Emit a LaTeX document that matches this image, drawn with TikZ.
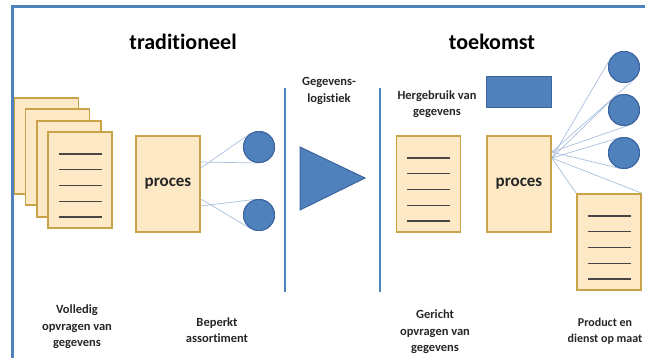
\documentclass[tikz,border=0pt]{standalone}
\usepackage{fontspec}
\setmainfont{Carlito}[Ligatures=NoCommon]
\usetikzlibrary{calc}
\definecolor{frameblue}{HTML}{4F81BD}
\definecolor{circlefill}{HTML}{4F81BD}
\definecolor{circledraw}{HTML}{3B64A0}
\definecolor{docfill}{HTML}{FDE9C5}
\definecolor{docdraw}{HTML}{C9A24A}
\definecolor{fanline}{HTML}{A9BFDC}
\definecolor{txt}{HTML}{262626}
\definecolor{docln}{HTML}{4A4545}
\tikzset{
  docbox/.style={draw=docdraw, fill=docfill, line width=1.6pt, minimum width=64pt, minimum height=96pt, inner sep=0pt},
  bal/.style={circle, draw=circledraw, fill=circlefill, line width=1pt, minimum size=31pt, inner sep=0pt},
  fan/.style={draw=fanline, line width=0.7pt},
  docline/.style={draw=docln, line width=1.4pt},
  divider/.style={draw=frameblue, line width=2.6pt},
  titletext/.style={font=\fontsize{22}{26}\selectfont\bfseries, text=black, inner sep=0pt},
  lbl/.style={font=\fontsize{12.5}{16.5}\selectfont\bfseries, text=txt, align=center, inner sep=0pt},
  proctext/.style={font=\fontsize{17}{20}\selectfont\bfseries, text=txt}
}
\newcommand\mydoclines[1]{%
  \foreach \o in {-26,-10.25,5.5,21.25,37}{%
    \draw[docline] ([shift={(-21.5,\o)}]#1.center) -- ([shift={(21.5,\o)}]#1.center);}}
\begin{document}
\begin{tikzpicture}[x=1pt,y=-1pt]
\useasboundingbox (0,0) rectangle (645,358);
% frame
\draw[divider, line width=3pt] (12,360) -- (12,7) -- (650,7);
% titles
\node[titletext] (t1) at (183,42) {traditioneel};
\node[titletext] (t2) at (492,42) {toekomst};
% stacked documents (traditional)
\node[docbox] (d1) at (46.5,146) {};
\mydoclines{d1}
\node[docbox] (d2) at (57.5,157) {};
\mydoclines{d2}
\node[docbox] (d3) at (69,169) {};
\mydoclines{d3}
\node[docbox] (d4) at (80,180) {};
\mydoclines{d4}
% proces left
\node[docbox, proctext] (p1) at (168,184) {proces};
% circles left
\node[bal] (lc1) at (259,147) {};
\node[bal] (lc2) at (259,215) {};
\coordinate (la1) at (200.8,162);
\coordinate (lb1) at (200.8,168);
\coordinate (la2) at (200.8,199);
\coordinate (lb2) at (200.8,206);
\draw[fan] (la1) -- (tangent cs:node=lc1,point={(la1)},solution=1);
\draw[fan] (lb1) -- (tangent cs:node=lc1,point={(lb1)},solution=2);
\draw[fan] (la2) -- (tangent cs:node=lc2,point={(la2)},solution=1);
\draw[fan] (lb2) -- (tangent cs:node=lc2,point={(lb2)},solution=2);
\node[bal] at (lc1) {};
\node[bal] at (lc2) {};
% dividers
\draw[divider] (285,88) coordinate (v1t) -- (285,292) coordinate (v1b);
\draw[divider] (380,88) coordinate (v2t) -- (380,292) coordinate (v2b);
\node[lbl] (gl) at (329,91) {Gegevens-\\logistiek};
% triangle
\draw[draw=circledraw, fill=circlefill, line width=1pt] (300,147) -- (365,178) -- (300,210) -- cycle;
% right side
\node[lbl] (hg) at (437,104) {Hergebruik van\\gegevens};
\node[draw=circledraw, fill=circlefill, line width=1pt, minimum width=65pt, minimum height=31pt, inner sep=0pt] (blk) at (518.5,92.5) {};
\node[docbox] (d5) at (428.5,184) {};
\mydoclines{d5}
\node[docbox, proctext] (p2) at (519,184) {proces};
\node[bal] (rc1) at (624,67) {};
\node[bal] (rc2) at (624,110) {};
\node[bal] (rc3) at (624,153) {};
\node[docbox] (d6) at (609,242) {};
\coordinate (ra) at (551.8,152);
\coordinate (rb) at (551.8,158);
\draw[fan] (ra) -- (tangent cs:node=rc1,point={(ra)},solution=1);
\draw[fan] (rb) -- (tangent cs:node=rc1,point={(rb)},solution=2);
\draw[fan] (ra) -- (tangent cs:node=rc2,point={(ra)},solution=1);
\draw[fan] (rb) -- (tangent cs:node=rc2,point={(rb)},solution=2);
\draw[fan] (ra) -- (tangent cs:node=rc3,point={(ra)},solution=1);
\draw[fan] (rb) -- (tangent cs:node=rc3,point={(rb)},solution=2);
\draw[fan] (rb) -- (d6.north west);
\draw[fan] (rb) -- (d6.north east);
\node[bal] at (rc1) {};
\node[bal] at (rc2) {};
\node[bal] at (rc3) {};
\node[docbox] at (d6) {};
\mydoclines{d6}
% bottom labels
\node[lbl] (l1) at (77,327) {Volledig\\opvragen van\\gegevens};
\node[lbl] (l2) at (217,330) {Beperkt\\assortiment};
\node[lbl] (l3) at (435,332) {Gericht\\opvragen van\\gegevens};
\node[lbl, font=\fontsize{12}{16.5}\selectfont\bfseries] (l4) at (605,331) {Product en\\dienst op maat};
\end{tikzpicture}
\end{document}
